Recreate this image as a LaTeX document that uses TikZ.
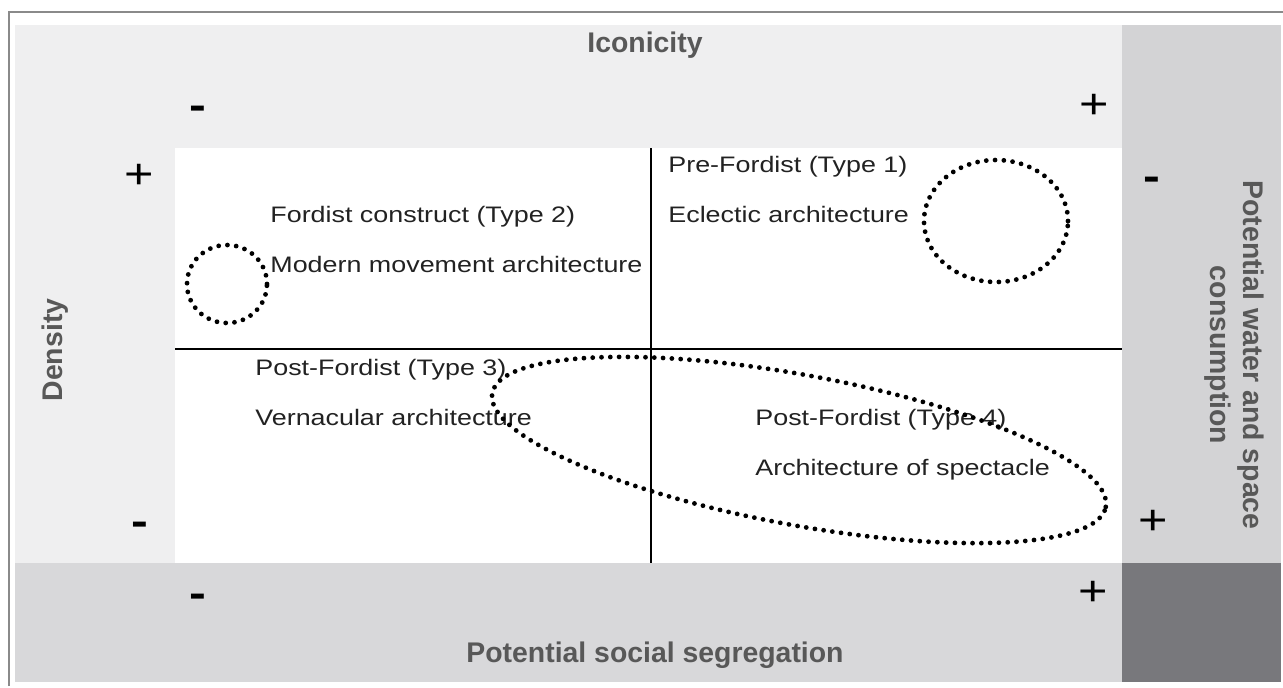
\documentclass[tikz,border=0pt]{standalone}
\usepackage{fontspec}
\setmainfont{Liberation Sans}
\newfontfamily\quadfont[FakeStretch=1.2]{Liberation Sans}
\usetikzlibrary{arrows.meta}

\definecolor{bandlight}{HTML}{EFEFF0}
\definecolor{bandside}{HTML}{D3D3D5}
\definecolor{bandbottom}{HTML}{D8D8DA}
\definecolor{banddark}{HTML}{78787C}
\definecolor{framegray}{HTML}{8A8A8A}
\definecolor{labelgray}{HTML}{585858}
\definecolor{textgray}{HTML}{222222}

\tikzset{
  quadtext/.style={anchor=base west, inner sep=0pt, text=textgray, font=\quadfont\fontsize{11.2}{13}\selectfont},
  axislabel/.style={anchor=base, inner sep=0pt, text=labelgray, font=\bfseries\fontsize{14.2}{16.5}\selectfont},
  plussign/.style={anchor=base, inner sep=0pt, text=black, font=\quadfont\fontsize{21}{21}\selectfont},
  minussign/.style={anchor=base, inner sep=0pt, text=black, font=\quadfont\bfseries\fontsize{21}{21}\selectfont},
  zone/.style={draw=black, line width=2.4pt, dash pattern=on 0pt off 4.4pt, line cap=round},
}

\begin{document}
\begin{tikzpicture}[x=0.5pt,y=-0.5pt]

  \useasboundingbox (0,0) rectangle (1283,687);
  \fill[white] (0,0) rectangle (1283,687);

  \coordinate (hL) at (175,349);
  \coordinate (hR) at (1122,349);
  \coordinate (vT) at (651,148);
  \coordinate (vB) at (651,563);

  \fill[bandlight] (15,25) rectangle (1122,563);
  \fill[white] (175,148) rectangle (1122,563);
  \fill[bandside] (1122,25) rectangle (1281,563);
  \fill[bandbottom] (15,563) rectangle (1122,682);
  \fill[banddark] (1122,563) rectangle (1281,682);
  \draw[framegray, line width=0.8pt] (9,686) -- (9,12) -- (1283,12);

  \draw[line width=1pt, black] (hL) -- (hR);
  \draw[line width=1pt, black] (vT) -- (vB);

  \node[axislabel] (iconicity) at (645,52) {Iconicity};
  \node[axislabel] (segregation) at (655,662) {Potential social segregation};
  \node[axislabel, rotate=90] (density) at (62,350) {Density};
  \node[axislabel, anchor=center, align=center, rotate=-90] (consumption) at (1234,355)
    {Potential water and space\\consumption};

  \node[minussign] (iconminus) at (198,119) {-};
  \node[plussign] (iconplus) at (1094,118) {+};
  \node[plussign] (densplus) at (139,188) {+};
  \node[minussign] (densminus) at (140,535) {-};
  \node[minussign] (segminus) at (198,607) {-};
  \node[plussign] (segplus) at (1093,605) {+};
  \node[minussign] (consminus) at (1152,190) {-};
  \node[plussign] (consplus) at (1153,534) {+};

  \node[quadtext] (preford) at (668,172) {Pre-Fordist (Type 1)};
  \node[quadtext] (eclectic) at (668,222) {Eclectic architecture};
  \node[quadtext] (fordist) at (270,222) {Fordist construct (Type 2)};
  \node[quadtext] (modern) at (270,272) {Modern movement architecture};
  \node[quadtext] (postford3) at (255,375) {Post-Fordist (Type 3)};
  \node[quadtext] (vernacular) at (255,425) {Vernacular architecture};
  \node[quadtext] (postford4) at (755,425) {Post-Fordist (Type 4)};
  \node[quadtext] (spectacle) at (755,475) {Architecture of spectacle};

  \draw[zone] (227,284) ellipse [x radius=20pt, y radius=19.5pt];
  \draw[zone] (996,221) ellipse [x radius=36pt, y radius=30.5pt];
  \draw[zone, rotate around={-10.5:(799,450)}] (799,450) ellipse [x radius=156pt, y radius=37.5pt];

\end{tikzpicture}
\end{document}
